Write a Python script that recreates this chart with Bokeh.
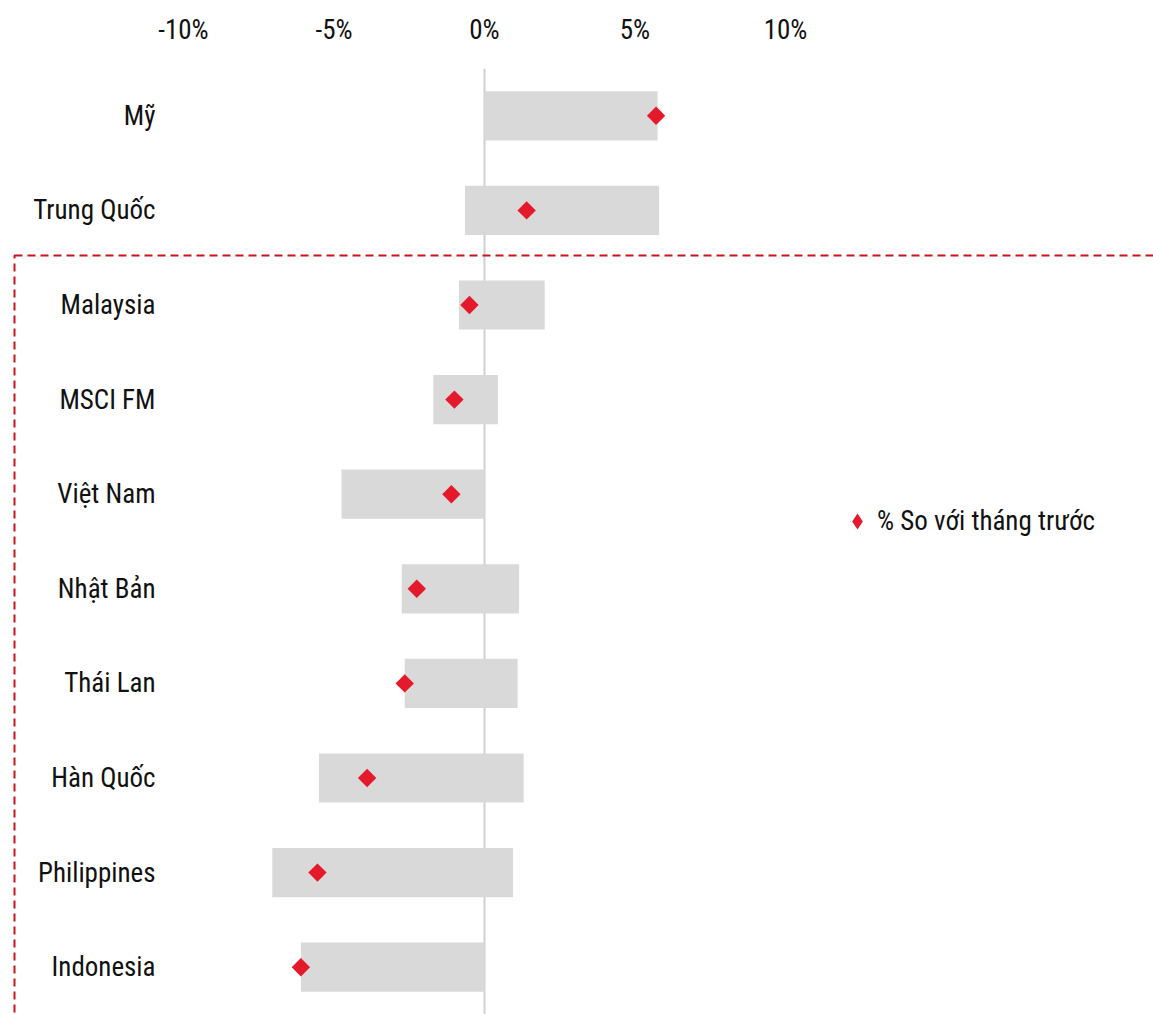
import math
from bokeh.plotting import figure
from bokeh.models import (Range1d, FactorRange, Span, BoxAnnotation, FixedTicker,
                          Legend, LegendItem, ColumnDataSource)
from bokeh.embed import file_html
from bokeh.resources import INLINE

categories = ["Mỹ", "Trung Quốc", "Malaysia", "MSCI FM", "Việt Nam",
              "Nhật Bản", "Thái Lan", "Hàn Quốc", "Philippines", "Indonesia"]
range_low = [0.0, -0.65, -0.85, -1.7, -4.75, -2.75, -2.65, -5.5, -7.05, -6.1]
range_high = [5.75, 5.8, 2.0, 0.45, 0.0, 1.15, 1.1, 1.3, 0.95, 0.0]
mom_change = [5.7, 1.4, -0.5, -1.0, -1.1, -2.25, -2.65, -3.9, -5.55, -6.1]
x_ticks = [-10, -5, 0, 5, 10]
x_tick_labels = ["-10%", "-5%", "0%", "5%", "10%"]
legend_label = "% So với tháng trước"

FONT = "Roboto Condensed, DejaVu Sans Condensed, Noto Sans"
TXT = "#111111"
RED = "#E5192C"
BOX_RED = "#C8141E"
GREY = "#D9D9D9"

src = ColumnDataSource(dict(cat=categories, lo=range_low, hi=range_high, mom=mom_change))

PX_PER_PCT = 30.1
ZERO_PX = 484
W, H = 1153, 1014

p = figure(width=W, height=H, output_backend="svg", toolbar_location=None,
           x_range=Range1d(-ZERO_PX / PX_PER_PCT, (W - ZERO_PX) / PX_PER_PCT),
           y_range=FactorRange(factors=list(reversed(categories)), range_padding=0),
           x_axis_location="above",
           min_border_left=0, min_border_right=0, min_border_top=68, min_border_bottom=0)
p.outline_line_color = None
p.background_fill_color = "white"
p.border_fill_color = "white"
p.xgrid.visible = False
p.ygrid.visible = False

# zero line beneath bars
p.add_layout(Span(location=0, dimension="height", line_color="#D0D0D0", line_width=2, level="underlay"))

p.hbar(y="cat", left="lo", right="hi", height=0.52, source=src,
       fill_color=GREY, line_color=None)
# diamond series used as legend swatch (fully covered by the rotated squares on top)
r_leg = p.scatter(x="mom", y="cat", source=src, marker="diamond", size=16,
                  fill_color=RED, line_color=None)
p.scatter(x="mom", y="cat", source=src, marker="square", size=13,
          angle=math.pi / 4, fill_color=RED, line_color=None)

xa = p.xaxis[0]
xa.ticker = FixedTicker(ticks=x_ticks)
xa.major_label_overrides = {t: l for t, l in zip(x_ticks, x_tick_labels)}
xa.axis_line_color = None
xa.major_tick_line_color = None
xa.minor_tick_line_color = None
xa.major_tick_out = 0
xa.major_label_standoff = 23
xa.major_label_text_font = FONT
xa.major_label_text_font_size = "27px"
xa.major_label_text_color = TXT

ya = p.yaxis[0]
ya.fixed_location = (170 - ZERO_PX) / PX_PER_PCT
ya.axis_line_color = None
ya.major_tick_line_color = None
ya.minor_tick_line_color = None
ya.major_tick_out = 0
ya.major_label_standoff = 15
ya.major_label_text_font = FONT
ya.major_label_text_font_size = "27px"
ya.major_label_text_color = TXT

# dashed highlight box (right and bottom edges fall outside the picture)
p.add_layout(BoxAnnotation(left=14, right=1300, top=255, bottom=1200,
                           left_units="canvas", right_units="canvas",
                           top_units="canvas", bottom_units="canvas",
                           fill_alpha=0, line_color=BOX_RED, line_alpha=1, line_width=2,
                           line_dash="8 5", level="overlay"))

legend = Legend(items=[LegendItem(label=legend_label, renderers=[r_leg])],
                location=(837, 473), orientation="vertical",
                border_line_color=None, background_fill_alpha=0,
                padding=0, margin=0, spacing=0,
                glyph_width=40, glyph_height=40, label_standoff=-2,
                label_text_font=FONT, label_text_font_size="27px",
                label_text_color=TXT)
p.add_layout(legend)

open("out.html", "w").write(file_html(p, INLINE))
